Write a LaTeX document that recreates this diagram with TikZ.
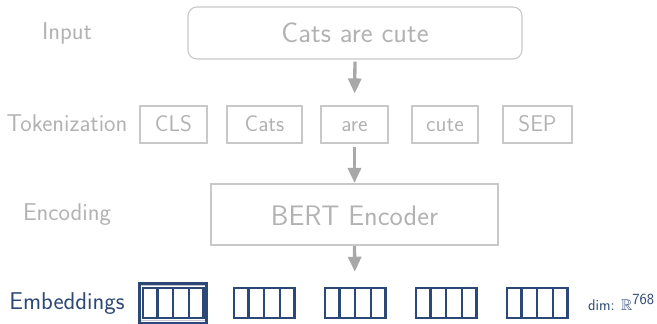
\documentclass[tikz,border=0pt]{standalone}
\usepackage{amssymb}
\usepackage{fontspec}
\usetikzlibrary{arrows.meta,calc}
\renewcommand{\familydefault}{\sfdefault}

\definecolor{boxgray}{RGB}{200,200,200}
\definecolor{textgray}{RGB}{178,178,178}
\definecolor{arrowgray}{RGB}{168,168,168}
\definecolor{embblue}{RGB}{44,72,118}
\definecolor{railgray}{RGB}{196,200,206}

\begin{document}
\begin{tikzpicture}[x=1pt,y=-1pt,
  rowlabel/.style={anchor=base,inner sep=0pt,text=textgray,font=\fontsize{24.3}{27}\selectfont},
  graybox/.style={draw=boxgray,line width=1.1pt,inner sep=0pt,text=textgray},
  tokbox/.style={graybox,minimum height=37pt,text height=14.4pt,text depth=0pt,
    font=\fontsize{22.7}{26}\selectfont},
  flow/.style={draw=arrowgray,line width=3.3pt,-{Triangle[width=13pt,length=15pt]}},
  embgrid/.style={draw=embblue,line width=2.5pt,minimum width=60.5pt,minimum height=30pt,inner sep=0pt},
]
\useasboundingbox (0,0) rectangle (657,324);

% row labels
\node[rowlabel] (lin)  at (67,39)    {Input};
\node[rowlabel] (ltok) at (67,131.7) {Tokenization};
\node[rowlabel] (lenc) at (67,220.7) {Encoding};
\node[rowlabel,text=embblue] (lemb) at (67,309.7) {Embeddings};

% input sentence
\node[graybox,rounded corners=9pt,minimum width=334pt,minimum height=52pt,
  text height=19.4pt,text depth=0pt,font=\fontsize{28.3}{31}\selectfont]
  (inp) at (355,33) {Cats are cute};

% tokens
\node[tokbox,minimum width=67pt] (t1) at (173.5,124.5) {CLS};
\node[tokbox,minimum width=75pt] (t2) at (264.5,124.5) {Cats};
\node[tokbox,minimum width=67pt] (t3) at (354.5,124.5) {are};
\node[tokbox,minimum width=66pt] (t4) at (445,124.5)   {cute};
\node[tokbox,minimum width=69pt] (t5) at (537.5,124.5) {SEP};

% encoder
\node[graybox,minimum width=287pt,minimum height=61pt,text height=21pt,text depth=0pt,
  font=\fontsize{28.2}{31}\selectfont] (enc) at (354.5,214.5) {BERT Encoder};

% highlight frame around the first embedding
\fill[white] (139.5,283.5) rectangle (206.5,323);
\draw[railgray,line width=1.6pt] (141,285.6) -- (205,285.6);
\draw[railgray,line width=1.6pt] (141,320.4) -- (205,320.4);
\draw[embblue,line width=3pt] (139.5,283.5) rectangle (206.5,323);

% embedding vectors
\foreach \i/\cx in {1/173,2/264,3/355,4/446,5/537}{
  \node[embgrid] (e\i) at (\cx,303) {};
  \foreach \f in {0.25,0.5,0.75}{
    \draw[embblue,line width=2.5pt] ($(e\i.north west)!\f!(e\i.north east)$)
      -- ($(e\i.south west)!\f!(e\i.south east)$);
  }
}

\node[anchor=base west,inner sep=0pt,text=embblue,font=\fontsize{15.5}{18}\selectfont]
  (dim) at (588,310) {dim: $\mathbb{R}^{\textsf{768}}$};

% flow arrows
\draw[flow,shorten <=2pt,shorten >=12pt] (inp.south) -- (t3.north);
\draw[flow,shorten <=3pt,shorten >=0.5pt] (t3.south) -- (enc.north);
\draw[flow,shorten <=0.5pt,shorten >=15pt] (enc.south) -- (e3.north);
\end{tikzpicture}
\end{document}
